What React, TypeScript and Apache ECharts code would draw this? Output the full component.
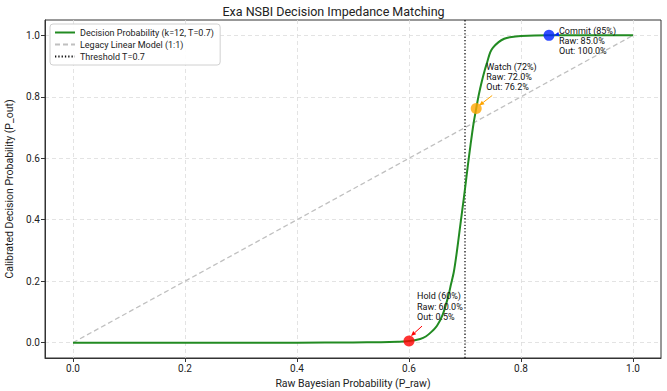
import React, { useEffect, useRef } from "react";
import * as echarts from "echarts";

// ---- Data ----
const rawProbability = [
  0.0, 0.1, 0.2, 0.3, 0.4, 0.5, 0.55, 0.58, 0.6, 0.62, 0.63, 0.64, 0.65, 0.66, 0.67, 0.675,
  0.68, 0.685, 0.69, 0.695, 0.7, 0.705, 0.71, 0.715, 0.72, 0.725, 0.73, 0.735, 0.74, 0.745,
  0.75, 0.76, 0.77, 0.78, 0.8, 0.85, 0.9, 1.0,
];
const decisionProbability = [
  0.0, 0.0, 0.0, 0.0, 0.0, 0.0005, 0.0015, 0.003, 0.005, 0.012, 0.02, 0.035, 0.055, 0.09, 0.15, 0.19,
  0.23, 0.29, 0.36, 0.43, 0.5, 0.575, 0.645, 0.71, 0.762, 0.81, 0.85, 0.885, 0.915, 0.945,
  0.96, 0.978, 0.989, 0.994, 0.998, 1.0, 1.0, 1.0,
];
const legacyX = [0.0, 1.0];
const legacyY = [0.0, 1.0];
const thresholdValue = 0.7;
const thresholdSpan = [-0.05, 1.05];

const keyNames = ["Hold (60%)", "Watch (72%)", "Commit (85%)"];
const keyRaw = [0.6, 0.72, 0.85];
const keyOut = [0.005, 0.762, 1.0];
const keyColors = ["#ff0000", "#ffa500", "#0022ff"];

const tickValues = [0, 0.2, 0.4, 0.6, 0.8, 1.0];

const seriesNames = [
  "Decision Probability (k=12, T=0.7)",
  "Legacy Linear Model (1:1)",
  "Threshold T=0.7",
];

// ---- Layout of annotations (pixel offsets from each key point) ----
const annotationLayout = [
  { tx: 8, ty: -50, ax0: 13, ay0: -15, ax1: 2, ay1: -5 },
  { tx: 10, ty: -47, ax0: 16, ay0: -13, ax1: 3, ay1: -3 },
  { tx: 10, ty: -10, ax0: 9, ay0: -1, ax1: 5, ay1: 0 },
];

const FONT = "Roboto, 'Open Sans', sans-serif";

export default function App() {
  const ref = useRef<HTMLDivElement>(null);

  useEffect(() => {
    document.body.style.margin = "0";
    const chart = echarts.init(ref.current!, null, { renderer: "svg" });

    const curveData = rawProbability.map((x, i) => [x, decisionProbability[i]]);
    const legacyData = legacyX.map((x, i) => [x, legacyY[i]]);
    const thresholdData = thresholdSpan.map((y) => [thresholdValue, y]);
    const keyData = keyRaw.map((x, i) => ({
      value: [x, keyOut[i], i],
      itemStyle: { color: keyColors[i] },
    }));

    const axisCommon = {
      type: "value" as const,
      min: -0.05,
      max: 1.05,
      axisLine: { show: true, onZero: false, lineStyle: { color: "#333", width: 1 } },
      axisTick: {
        show: true,
        length: 4,
        customValues: tickValues,
        lineStyle: { color: "#333" },
      },
      axisLabel: {
        customValues: tickValues,
        formatter: (v: number) => v.toFixed(1),
        color: "#222",
        fontSize: 10,
        fontFamily: FONT,
        margin: 5,
      },
      splitLine: {
        show: true,
        lineStyle: { color: "#dcdcdc", type: [4, 3] as any, width: 0.8 },
      },
      nameLocation: "middle" as const,
      nameTextStyle: { color: "#222", fontSize: 10.5, fontFamily: FONT },
    };

    chart.setOption({
      animation: false,
      backgroundColor: "#ffffff",
      title: {
        text: "Exa NSBI Decision Impedance Matching",
        left: "center",
        top: 0,
        textStyle: { fontSize: 12.5, fontWeight: "normal", color: "#222", fontFamily: FONT },
      },
      grid: {
        left: 45,
        right: 6,
        top: 20,
        bottom: 33,
        show: true,
        borderColor: "#333",
        borderWidth: 1,
        outerBoundsMode: "none",
        containLabel: false,
      },
      legend: {
        data: seriesNames,
        orient: "vertical",
        left: 50,
        top: 24,
        itemWidth: 20,
        itemHeight: 10,
        itemGap: 3,
        padding: [4, 6, 4, 4],
        backgroundColor: "rgba(255,255,255,0.9)",
        borderColor: "#d0d0d0",
        borderWidth: 1,
        borderRadius: 3,
        itemStyle: { color: "rgba(0,0,0,0)", borderColor: "rgba(0,0,0,0)", borderWidth: 0 },
        textStyle: { fontSize: 9, color: "#222", fontFamily: FONT },
      },
      xAxis: {
        ...axisCommon,
        name: "Raw Bayesian Probability (P_raw)",
        nameGap: 18,
      },
      yAxis: {
        ...axisCommon,
        name: "Calibrated Decision Probability (P_out)",
        nameGap: 30,
      },
      series: [
        {
          name: seriesNames[1],
          type: "line",
          data: legacyData,
          symbol: "none",
          lineStyle: { color: "#c0c0c0", width: 1.3, type: [5, 3] },
          itemStyle: { color: "#c0c0c0" },
          z: 2,
        },
        {
          name: seriesNames[2],
          type: "line",
          data: thresholdData,
          symbol: "none",
          lineStyle: { color: "#111", width: 1.3, type: [1.3, 2] },
          itemStyle: { color: "#111" },
          z: 3,
        },
        {
          name: seriesNames[0],
          type: "line",
          data: curveData,
          symbol: "none",
          smooth: 0.3,
          lineStyle: { color: "#228b22", width: 2 },
          itemStyle: { color: "#228b22" },
          z: 4,
        },
        {
          name: "annotations",
          type: "custom",
          coordinateSystem: "cartesian2d",
          data: keyData.map((d) => d.value),
          encode: { x: 0, y: 1 },
          z: 5,
          silent: true,
          renderItem: (params: any, api: any) => {
            const i = params.dataIndex;
            const p = api.coord([api.value(0), api.value(1)]);
            const L = annotationLayout[i];
            const color = keyColors[i];
            const x0 = p[0] + L.ax0, y0 = p[1] + L.ay0;
            const x1 = p[0] + L.ax1, y1 = p[1] + L.ay1;
            const dx = x1 - x0, dy = y1 - y0;
            const len = Math.sqrt(dx * dx + dy * dy) || 1;
            const ux = dx / len, uy = dy / len;
            const hl = 5, hw = 2.2;
            const bx = x1 - ux * hl, by = y1 - uy * hl;
            const text =
              keyNames[i] +
              "\nRaw: " + (keyRaw[i] * 100).toFixed(1) + "%" +
              "\nOut: " + (keyOut[i] * 100).toFixed(1) + "%";
            return {
              type: "group",
              children: [
                {
                  type: "line",
                  shape: { x1: x0, y1: y0, x2: bx, y2: by },
                  style: { stroke: color, lineWidth: 1 },
                },
                {
                  type: "polygon",
                  shape: {
                    points: [
                      [x1, y1],
                      [bx - uy * hw, by + ux * hw],
                      [bx + uy * hw, by - ux * hw],
                    ],
                  },
                  style: { fill: color },
                },
                {
                  type: "text",
                  x: p[0] + L.tx,
                  y: p[1] + L.ty,
                  style: {
                    text,
                    fill: "#111",
                    font: "9px " + FONT,
                    lineHeight: 10.3,
                    align: "left",
                    verticalAlign: "top",
                  },
                },
              ],
            };
          },
        },
        {
          name: "keyPoints",
          type: "scatter",
          data: keyData,
          symbol: "circle",
          symbolSize: 11,
          z: 6,
          silent: true,
        },
      ],
    });

    return () => chart.dispose();
  }, []);

  return <div ref={ref} style={{ width: 667, height: 391 }} />;
}
